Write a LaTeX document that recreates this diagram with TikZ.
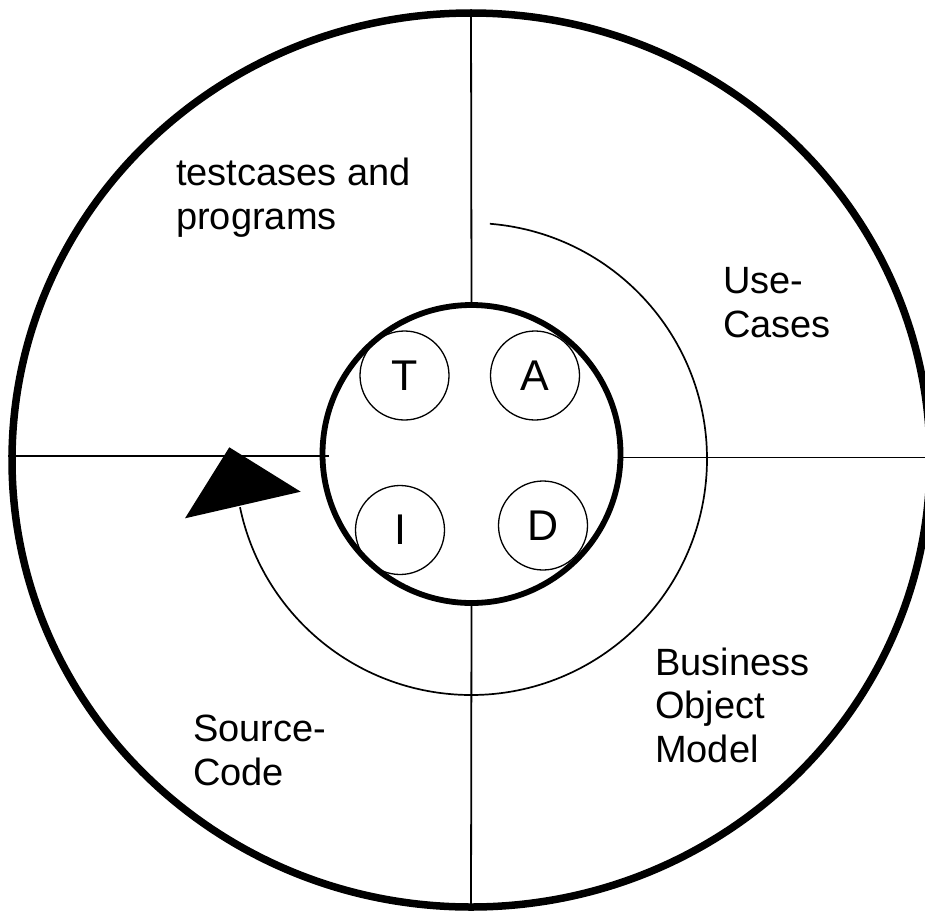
\documentclass[tikz,border=0pt]{standalone}
\usepackage{fontspec}
\setmainfont{Liberation Sans}
\usetikzlibrary{shapes.geometric}
\begin{document}
\begin{tikzpicture}[x=1pt,y=-1pt,
  divider/.style={line width=1.8pt},
  letterdisc/.style={circle,draw,line width=1.3pt,minimum size=89pt,inner sep=0pt,
    font=\fontsize{43}{48}\selectfont},
  areatext/.style={align=left,inner sep=0pt,anchor=base west,
    font=\fontsize{38}{43.5}\selectfont}]
\useasboundingbox (0,0) rectangle (925,913);
\fill[white] (0,0) rectangle (925,913);
\clip (0,0) rectangle (925,913);

% outer ring and central hub
\node[ellipse,draw,line width=7.5pt,minimum width=918pt,minimum height=894pt,inner sep=0pt] (ring) at (471,460) {};
\node[circle,draw,line width=5.8pt,minimum size=298pt,inner sep=0pt] (hub) at (471.5,454) {};

% quadrant dividers
\draw[divider] (hub.north) -- (ring.north);
\draw[divider] (hub.south) -- (ring.south);
\draw[divider] ([yshift=4pt]ring.west) -- ([xshift=9pt,yshift=-2pt]hub.west);
\draw[divider] ([yshift=-3.5pt]hub.east) -- ([yshift=2.5pt]ring.east);

% phase discs
\node[letterdisc] (T) at (404.5,375.5) {T};
\node[letterdisc] (A) at (535,375.5) {A};
\node[letterdisc] (I) at (400,530) {I};
\node[letterdisc] (D) at (543,525.5) {D};

% cycle arrow
\coordinate (cyc) at (471,459);
\coordinate (tipA) at (229.3,447.3);
\coordinate (tipB) at (300.7,491.7);
\coordinate (tipC) at (185,518.3);
\draw[line width=1.7pt] ([shift={(-85.4:236)}]cyc) arc[start angle=-85.4,end angle=168.2,radius=236];
\fill (tipA) -- (tipB) -- (tipC) -- cycle;

% quadrant labels (anchored at the baseline of the last line)
\node[areatext] (tests) at (176,229) {testcases and\\programs};
\node[areatext] (uses) at (723,337) {Use-\\Cases};
\node[areatext] (bom) at (655,762) {Business\\Object\\Model};
\node[areatext] (src) at (193,785) {Source-\\Code};
\end{tikzpicture}
\end{document}
